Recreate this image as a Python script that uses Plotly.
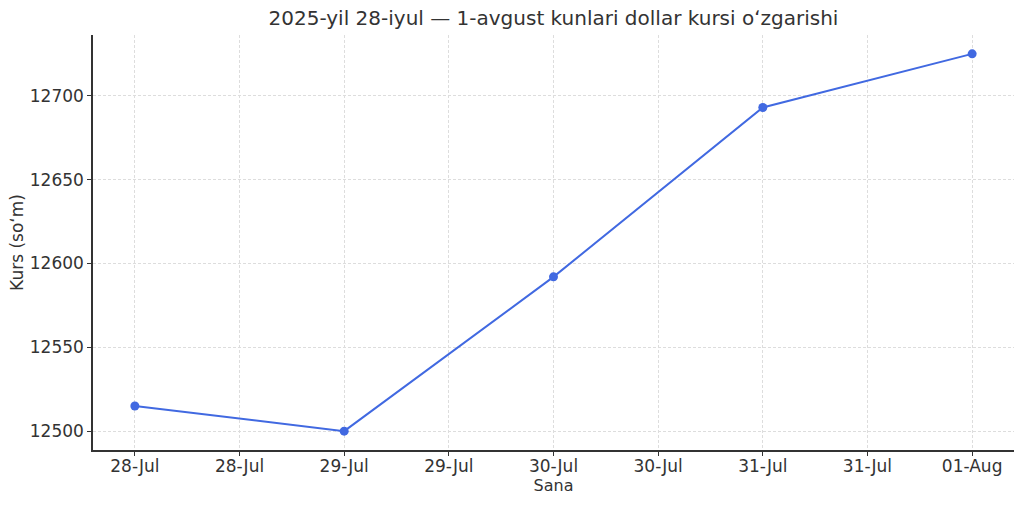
import plotly.graph_objects as go

dates = ["2025-07-28", "2025-07-29", "2025-07-30", "2025-07-31", "2025-08-01"]
rates = [12515, 12500, 12592, 12693, 12725]

tick_vals = ["2025-07-28 00:00", "2025-07-28 12:00", "2025-07-29 00:00", "2025-07-29 12:00",
             "2025-07-30 00:00", "2025-07-30 12:00", "2025-07-31 00:00", "2025-07-31 12:00",
             "2025-08-01 00:00"]
tick_text = ["28-Jul", "28-Jul", "29-Jul", "29-Jul", "30-Jul", "30-Jul", "31-Jul", "31-Jul", "01-Aug"]
y_ticks = [12500, 12550, 12600, 12650, 12700]
y_tick_text = ["12500", "12550", "12600", "12650", "12700"]

title = "2025-yil 28-iyul — 1-avgust kunlari dollar kursi oʻzgarishi"

fig = go.Figure()
fig.add_trace(go.Scatter(
    x=dates, y=rates, mode="lines+markers",
    line=dict(color="#4169E1", width=2),
    marker=dict(color="#4169E1", size=9),
))

font_family = "DejaVu Sans"
fig.update_layout(
    width=1024, height=506,
    margin=dict(l=93, r=10, t=35, b=56),
    paper_bgcolor="white", plot_bgcolor="white",
    font=dict(family=font_family, color="#333333", size=17),
    title=dict(text=title, x=0.5405, xanchor="center", y=0.964, yanchor="middle",
               font=dict(size=20, color="#333333")),
    showlegend=False,
)
fig.update_xaxes(
    type="date",
    range=["2025-07-27 19:12", "2025-08-01 04:48"],
    tickvals=tick_vals, ticktext=tick_text,
    showgrid=True, gridcolor="#dddddd", griddash="3px,2px", gridwidth=1,
    showline=True, linecolor="#333333", linewidth=1.5, mirror=False,
    ticks="outside", ticklen=4, tickcolor="#333333",
    ticklabelstandoff=-4,
    zeroline=False, automargin=False,
    title=dict(text="Sana", font=dict(size=16), standoff=2),
)
fig.update_yaxes(
    range=[12488.75, 12736.25],
    tickvals=y_ticks, ticktext=y_tick_text,
    showgrid=True, gridcolor="#dddddd", griddash="3px,2px", gridwidth=1,
    showline=True, linecolor="#333333", linewidth=1.5, mirror=False,
    ticks="outside", ticklen=4, tickcolor="#333333",
    zeroline=False, automargin=False,
    title=dict(text="Kurs (soʻm)", font=dict(size=17), standoff=2),
)

fig.write_html("out.html", config={"displayModeBar": False},
               post_script="document.body.style.margin='0';")
